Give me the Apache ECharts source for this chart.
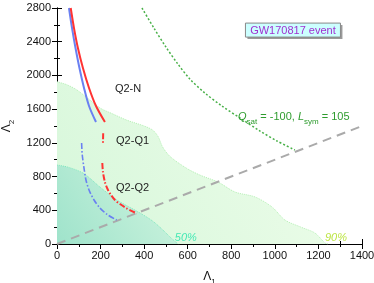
<!DOCTYPE html>
<html>
<head>
<meta charset="utf-8">
<script src="https://cdn.jsdelivr.net/npm/echarts@6/dist/echarts.min.js"></script>
<style>html,body{margin:0;padding:0;background:#fff;}#c{width:374px;height:283px;}</style>
</head>
<body>
<div id="c"></div>
<script>
// ---- data ----
const xTicks = [0, 200, 400, 600, 800, 1000, 1200, 1400];
const yTicks = [0, 400, 800, 1200, 1600, 2000, 2400, 2800];
const region90 = [[0,1925],[45,1890],[90,1830],[150,1710],[200,1610],[250,1550],[320,1470],[400,1400],[440,1350],[465,1270],[485,1150],[520,1036],[595,898],[656,818],[739,735],[817,617],[909,558],[987,439],[1046,285],[1120,200],[1184,130],[1230,12],[1245,0]];
const region50 = [[0,937],[50,912],[121,839],[197,676],[275,522],[381,368],[440,270],[486,166],[520,80],[550,12],[556,0]];
const q2nRed = [[63,2800],[78,2562],[96,2325],[119,2088],[147,1851],[179,1637],[220,1447]];
const q2nBlue = [[55,2800],[69,2562],[85,2325],[103,2088],[124,1851],[147,1637],[179,1447]];
const q2q1Red = [[212,1313],[211,1194]];
const q2q2Red = [[208,961],[211,854],[220,735],[232,652],[248,581],[266,522],[289,474],[321,421],[367,362]];
const q2q2Blue = [[113,1198],[116,1056],[124,901],[133,759],[147,641],[170,522],[197,427],[234,344],[274,285]];
const qsatCurve = [[390,2800],[445,2562],[500,2337],[555,2135],[610,1957],[679,1791],[757,1637],[840,1495],[932,1340],[1010,1222],[1092,1115]];
const diagonal = [[0,0],[1400,1400]];
const labels = [
  {text:'Q2-N', pos:[266,1839]},
  {text:'Q2-Q1', pos:[271,1225]},
  {text:'Q2-Q2', pos:[271,664]}
];

const chart = echarts.init(document.getElementById('c'), null, {renderer:'canvas'});
const FONT = 'Liberation Sans, Arial, Helvetica, sans-serif';
const dashDot = [6,2,1.5,2];

function axisCommon(showLabel){
  return {
    axisLine:{show:true,lineStyle:{color:'#000',width:1}},
    axisTick:{show:true,inside:true,length:5,lineStyle:{color:'#000',width:1}},
    minorTick:{show:true,splitNumber:2,length:3,lineStyle:{color:'#000',width:1}},
    splitLine:{show:false},
    axisLabel:{show:showLabel,color:'#111',fontSize:11,fontFamily:FONT,margin:6,formatter:v=>String(v)}
  };
}
const nameRich = {a:{fontSize:12,fontFamily:FONT,color:'#111',lineHeight:14,verticalAlign:'top'},s:{fontSize:8,fontFamily:FONT,color:'#111',lineHeight:14,verticalAlign:'top',padding:[7,0,0,0]}};

const option = {
  animation:false,
  backgroundColor:'#fff',
  grid:{left:57,right:12,top:8,bottom:39,containLabel:false,outerBoundsMode:'none'},
  xAxis:[
    Object.assign({type:'value',min:xTicks[0],max:xTicks[xTicks.length-1],interval:200,position:'bottom',
      name:'{a|Λ}{s|1}',nameLocation:'middle',nameGap:27,nameTextStyle:{rich:nameRich}},axisCommon(true)),
    Object.assign({type:'value',min:0,max:1400,interval:200,position:'top'},axisCommon(false))
  ],
  yAxis:[
    Object.assign({type:'value',min:yTicks[0],max:yTicks[yTicks.length-1],interval:400,position:'left',
      name:'{a|Λ}{s|2}',nameLocation:'middle',nameGap:33,nameRotate:90,nameTextStyle:{rich:nameRich}},axisCommon(true)),
    Object.assign({type:'value',min:0,max:2800,interval:400,position:'right'},axisCommon(false))
  ],
  series:[
    {type:'line',data:region90,smooth:0.3,showSymbol:false,z:1,
      lineStyle:{color:'#b4efb4',width:1,type:'dotted'},
      areaStyle:{opacity:1,color:new echarts.graphic.LinearGradient(0,1,1,0,[{offset:0,color:'#d6f7da'},{offset:1,color:'#effdeb'}])}},
    {type:'line',data:region50,smooth:0.3,showSymbol:false,z:2,
      lineStyle:{color:'#7ee6bf',width:1,type:'dotted'},
      areaStyle:{opacity:1,color:new echarts.graphic.LinearGradient(0,1,1,0,[{offset:0,color:'#9fe3cb'},{offset:1,color:'#d2f5e0'}])}},
    {type:'line',data:diagonal,showSymbol:false,z:3,lineStyle:{color:'#aaaaaa',width:2,type:[9,6]}},
    {type:'line',data:qsatCurve,smooth:0.3,showSymbol:false,z:3,lineStyle:{color:'#48b048',width:1.5,type:[2,2]}},
    {type:'line',data:q2nBlue,smooth:0.3,showSymbol:false,z:4,lineStyle:{color:'#6a80f2',width:2}},
    {type:'line',data:q2nRed,smooth:0.3,showSymbol:false,z:4,lineStyle:{color:'#ff3333',width:2}},
    {type:'line',data:q2q1Red,showSymbol:false,z:4,lineStyle:{color:'#ff3333',width:2,type:dashDot}},
    {type:'line',data:q2q2Red,smooth:0.3,showSymbol:false,z:4,lineStyle:{color:'#ff3333',width:2,type:dashDot}},
    {type:'line',data:q2q2Blue,smooth:0.3,showSymbol:false,z:4,lineStyle:{color:'#6a80f2',width:1.6,type:dashDot}}
  ]
};
chart.setOption(option);

function px(p){ return chart.convertToPixel({xAxisIndex:0,yAxisIndex:0}, p); }
const g = [];
labels.forEach(l=>{
  const p = px(l.pos);
  g.push({type:'text',x:p[0],y:p[1],z:10,style:{text:l.text,fill:'#222',font:'11px '+FONT,textVerticalAlign:'middle',textAlign:'left'}});
});
let p50 = px([541,77]), p90 = px([1230,77]);
g.push({type:'text',x:p50[0],y:p50[1],z:10,style:{text:'50%',fill:'#45e8b4',font:'italic 11px '+FONT,textVerticalAlign:'middle'}});
g.push({type:'text',x:p90[0],y:p90[1],z:10,style:{text:'90%',fill:'#bde545',font:'italic 11px '+FONT,textVerticalAlign:'middle'}});
let pq = px([831,1495]);
g.push({type:'text',x:pq[0],y:pq[1],z:10,style:{
  text:'{i|Q}{s|sat}{n| = -100, }{i|L}{s|sym}{n| = 105}',
  textVerticalAlign:'middle',
  rich:{
    i:{fill:'#2f9c2f',font:'italic 11px '+FONT,lineHeight:13,verticalAlign:'top'},
    n:{fill:'#2f9c2f',font:'11px '+FONT,lineHeight:13,verticalAlign:'top'},
    s:{fill:'#2f9c2f',font:'8px '+FONT,lineHeight:13,verticalAlign:'top',padding:[6,0,0,0]}
  }}});
let pg = px([1083,2538]);
const bw = 95, bh = 14;
g.push({type:'rect',shape:{x:pg[0]-bw/2+2,y:pg[1]-bh/2+2,width:bw,height:bh},z:10,style:{fill:'#9a9a9a'}});
g.push({type:'rect',shape:{x:pg[0]-bw/2,y:pg[1]-bh/2,width:bw,height:bh},z:11,style:{fill:'#ccffff',stroke:'#888',lineWidth:1}});
g.push({type:'text',x:pg[0],y:pg[1]+0.5,z:12,style:{text:'GW170817 event',fill:'#a030d0',font:'11px '+FONT,textAlign:'center',textVerticalAlign:'middle'}});
chart.setOption({graphic:g});
</script>
</body>
</html>
